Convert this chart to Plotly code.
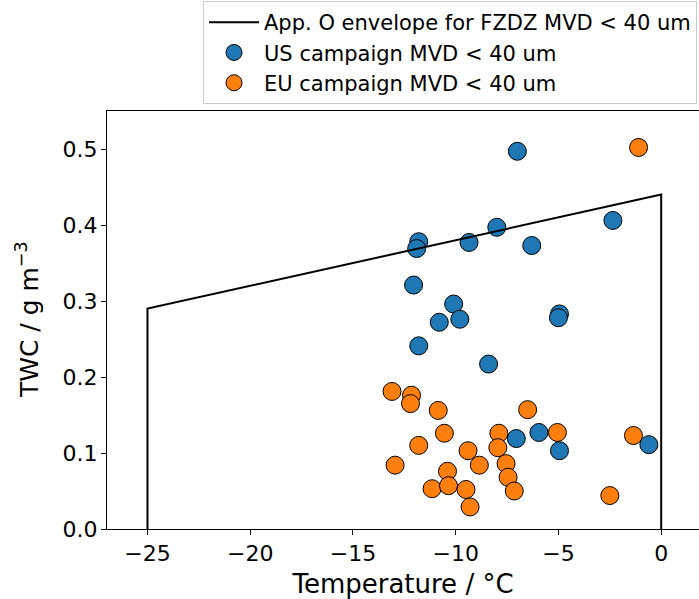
import plotly.graph_objects as go

# Envelope (App. O, FZDZ MVD < 40 um)
env_T = [-25, -25, 0, 0]
env_twc = [0.0, 0.29, 0.44, 0.0]

# US campaign MVD < 40 um
us_T = [-7.0, -11.8, -11.9, -9.35, -8.0, -6.3, -2.35, -4.95, -5.0, -12.05,
        -10.1, -10.8, -9.8, -11.8, -8.4, -7.05, -5.95, -4.95, -0.6]
us_twc = [0.497, 0.378, 0.369, 0.377, 0.397, 0.373, 0.406, 0.283, 0.278, 0.321,
          0.296, 0.272, 0.276, 0.241, 0.217, 0.119, 0.127, 0.103, 0.111]

# EU campaign MVD < 40 um
eu_T = [-13.1, -12.15, -12.2, -10.85, -6.5, -10.55, -7.9, -5.05, -11.8, -7.95,
        -9.4, -12.95, -8.85, -7.55, -10.4, -7.45, -11.15, -10.35, -9.5, -7.15,
        -9.3, -1.35, -2.5, -1.1]
eu_twc = [0.181, 0.176, 0.165, 0.156, 0.157, 0.126, 0.126, 0.127, 0.110, 0.107,
          0.103, 0.084, 0.084, 0.086, 0.076, 0.068, 0.053, 0.057, 0.052, 0.050,
          0.029, 0.123, 0.044, 0.502]

FONT = "DejaVu Sans"

fig = go.Figure()
fig.add_trace(go.Scatter(
    x=eu_T, y=eu_twc, mode="markers", name="EU campaign MVD < 40 um",
    legendrank=3,
    marker=dict(size=18, color="#ff7f0e", line=dict(color="black", width=1)),
))
fig.add_trace(go.Scatter(
    x=us_T, y=us_twc, mode="markers", name="US campaign MVD < 40 um",
    legendrank=2,
    marker=dict(size=18, color="#1f77b4", line=dict(color="black", width=1)),
))
fig.add_trace(go.Scatter(
    x=env_T, y=env_twc, mode="lines", name="App. O envelope for FZDZ MVD < 40 um",
    legendrank=1,
    line=dict(color="black", width=2),
))

fig.update_layout(
    width=699, height=599,
    margin=dict(l=107, r=0, t=111, b=70, autoexpand=False),
    paper_bgcolor="white", plot_bgcolor="white",
    font=dict(family=FONT, color="black", size=22),
    showlegend=True,
    legend=dict(
        xref="container", yref="container",
        x=203 / 699, y=1 - 1 / 599, xanchor="left", yanchor="top",
        bordercolor="#cccccc", borderwidth=1, bgcolor="white",
        font=dict(family=FONT, size=21, color="black"),
        traceorder="normal", itemwidth=50,
    ),
    xaxis=dict(
        range=[-26.97, 1.84], autorange=False,
        tickvals=[-25, -20, -15, -10, -5, 0],
        ticktext=["−25", "−20", "−15", "−10", "−5", "0"],
        showgrid=False, zeroline=False,
        showline=True, linecolor="black", linewidth=1, mirror=True,
        ticks="outside", ticklen=5, tickcolor="black",
        tickfont=dict(size=22),
        title=dict(text="Temperature / °C", font=dict(size=26)),
        automargin=False,
    ),
    yaxis=dict(
        range=[0, 0.55], autorange=False,
        tickvals=[0.0, 0.1, 0.2, 0.3, 0.4, 0.5],
        ticktext=["0.0", "0.1", "0.2", "0.3", "0.4", "0.5"],
        showgrid=False, zeroline=False,
        showline=True, linecolor="black", linewidth=1,
        ticks="outside", ticklen=5, tickcolor="black",
        tickfont=dict(size=22), ticklabelstandoff=-1,
        automargin=False,
    ),
    annotations=[dict(
        text="TWC / g m<sup>−3</sup>", textangle=-90,
        xref="paper", yref="paper", x=-0.135, y=0.5,
        xanchor="center", yanchor="middle", showarrow=False,
        font=dict(family=FONT, size=25, color="black"),
    )],
)

fig.write_html("out.html")
